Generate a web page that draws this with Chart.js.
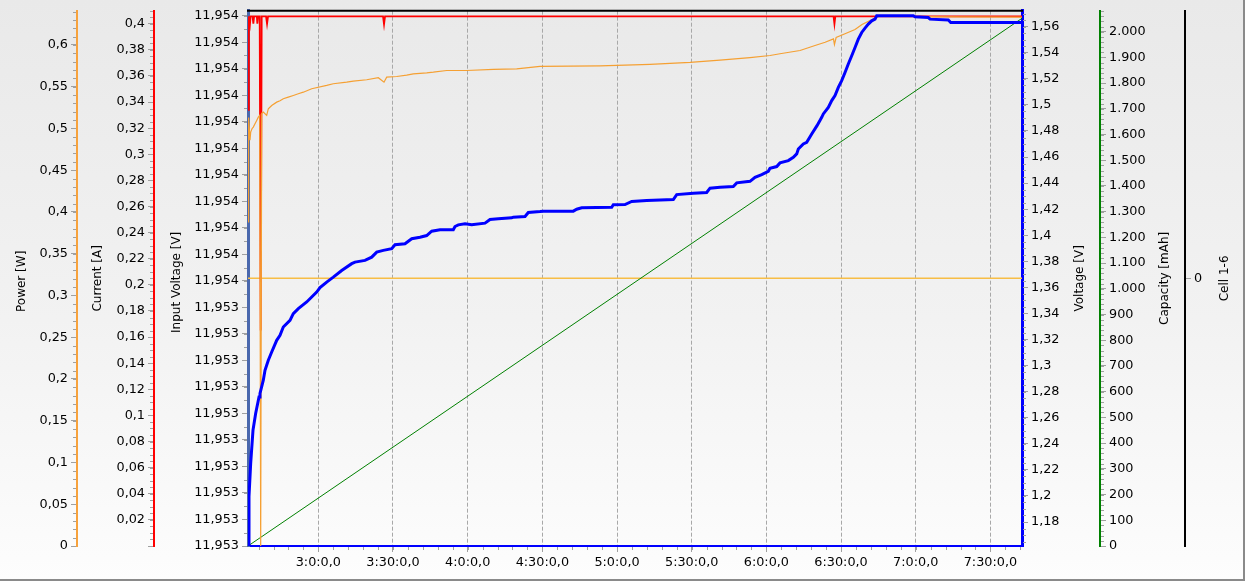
<!DOCTYPE html>
<html>
<head>
<meta charset="utf-8">
<script src="https://cdn.jsdelivr.net/npm/chart.js@4.4.0/dist/chart.umd.min.js"></script>
<style>
  html, body { margin: 0; padding: 0; background: #fff; }
  #wrap { position: relative; width: 1245px; height: 581px;
    background: linear-gradient(to bottom, #e9e9e9 0%, #f2f2f2 55%, #fdfdfd 100%); }
  #frame { position: absolute; left: 0; top: 0; width: 1243px; height: 579px;
    border-right: 2px solid #8a8a8a; border-bottom: 2px solid #8a8a8a; pointer-events: none; }
  canvas { position: absolute; left: 0; top: 0; }
</style>
</head>
<body>
<div id="wrap"><canvas id="logChart" width="1245" height="581"></canvas><div id="frame"></div></div>
<script>
// time in minutes after midnight
const timeTicks = [180, 210, 240, 270, 300, 330, 360, 390, 420, 450];
const timeLabels = ['3:0:0,0', '3:30:0,0', '4:0:0,0', '4:30:0,0', '5:0:0,0', '5:30:0,0', '6:0:0,0', '6:30:0,0', '7:0:0,0', '7:30:0,0'];

const voltTime = [151.75,152.15,152.83,153.76,154.84,156.17,156.57,157.90,158.58,159.91,161.27,163.28,164.61,165.93,168.62,169.95,171.96,175.33,177.34,179.35,
  180.68,183.37,186.02,189.39,193.41,194.74,198.75,201.45,203.46,206.11,209.48,210.81,214.82,217.52,220.85,223.54,225.55,228.89,234.23,234.91,
  236.24,238.93,241.62,246.97,248.97,252.31,257.69,258.34,263.04,264.36,269.06,270.39,282.44,283.81,285.82,297.87,298.51,303.21,305.90,311.93,
  322.62,323.98,330.65,336.03,337.36,341.38,346.72,348.09,353.43,355.44,358.13,360.78,361.46,364.16,365.48,368.82,370.83,372.19,372.84,374.85,
  376.21,378.34,380.35,382.24,382.88,384.89,386.26,387.58,388.91,390.27,391.60,392.92,394.29,395.62,396.94,398.31,399.63,400.96,402.33,403.65,
  404.33,419.04,419.72,425.06,425.74,433.10,434.06,462.70];
const voltValues = [1.162,1.1994,1.2252,1.2505,1.2635,1.2760,1.2786,1.2888,1.2964,1.3041,1.3104,1.3194,1.3232,1.3296,1.3347,1.3399,1.3437,1.3488,1.3526,1.3564,
  1.3598,1.3641,1.3679,1.3730,1.3782,1.3794,1.3807,1.3832,1.3871,1.3884,1.3897,1.3927,1.3935,1.3973,1.3985,1.3998,1.4031,1.4042,1.4042,1.4067,
  1.4080,1.4088,1.4080,1.4093,1.4121,1.4126,1.4134,1.4139,1.4144,1.4175,1.4182,1.4185,1.4185,1.4200,1.4211,1.4215,1.4234,1.4236,1.4259,1.4267,
  1.4274,1.4312,1.4322,1.4328,1.4361,1.4368,1.4374,1.4402,1.4414,1.4445,1.4466,1.4491,1.4514,1.4527,1.4555,1.4573,1.4598,1.4624,1.4662,1.4701,
  1.4713,1.4780,1.4841,1.4905,1.4931,1.4981,1.5033,1.5071,1.5134,1.5186,1.5249,1.5314,1.5377,1.5441,1.5505,1.5556,1.5589,1.5620,1.5645,1.5658,
  1.5684,1.5684,1.5676,1.5670,1.5658,1.5651,1.5632,1.5632];

const powerTime = [151.75,152.0,152.55,152.83,153.36,153.88,154.56,155.25,155.89,156.45,156.85,157.25,157.90,159.26,159.91,161.27,163.28,164.61,165.93,167.94,
  169.95,171.96,173.97,177.34,183.37,186.02,191.40,194.05,199.44,204.10,206.39,207.47,211.49,215.51,218.16,223.54,226.20,231.58,239.6,250.3,
  259.7,269.06,293.17,313.26,329.33,341.38,353.43,361.47,365.48,373.52,379.55,383.62,386.95,387.35,388.03,391.60,395.62,398.43,401.64,404.05,
  405.66,425.74,437.79,462.7];
const powerValues = [0.388,0.513,0.486,0.4956,0.4997,0.5016,0.5056,0.5096,0.5135,0.5156,0,0.518,0.5195,0.5156,0.5236,0.5275,0.5315,0.5331,0.5355,0.5375,
  0.5395,0.5415,0.5434,0.5475,0.5515,0.5535,0.5554,0.5566,0.5583,0.5607,0.5554,0.5614,0.5622,0.5638,0.5654,0.5666,0.5674,0.5694,0.5694,0.5706,
  0.5714,0.5742,0.5748,0.5766,0.5790,0.5817,0.5849,0.5873,0.5894,0.5933,0.5993,0.6032,0.6073,0.6005,0.6089,0.6133,0.6184,0.6244,0.6292,0.6328,
  0.6343,0.6340,0.6336,0.6334];

const currentTime = [151.75,152.1,152.55,152.8,153.6,153.9,154.2,155.3,155.5,155.8,156.45,156.85,157.25,159.0,159.4,159.8,206.0,206.4,206.8,387.0,387.35,387.7,462.7];
const currentValues = [0.334,0.4057,0.4,0.4057,0.4057,0.4,0.4057,0.4057,0.4,0.4057,0.4057,0.165,0.4057,0.4057,0.4,0.4057,0.4057,0.3996,0.4057,0.4057,0.3999,0.4057,0.4057];

const capacityTime = [151.75, 462.7];
const capacityValues = [0, 2052];

const cellTime = [151.75, 462.7];
const cellValues = [0, 0];

const inputVoltageBase = 11.95302;
const inputVoltageStep = 0.00005;

const pts = (xs, ys) => xs.map((x, i) => ({ x: x, y: ys[i] }));
const commaNum = (v, d) => String(Number(v.toFixed(d))).replace('.', ',');
const thousands = v => { const n = Math.round(v); return n >= 1000 ? Math.floor(n / 1000) + '.' + String(n % 1000).padStart(3, '0') : String(n); };

const tickFont = { family: 'DejaVu Sans', size: 12.8 };
const tickGray = '#a0a0a0';

function yAxis(pos, weight, color, bw, width, min, max, ticks, extra) {
  return Object.assign({
    type: 'linear', position: pos, weight: weight, min: min, max: max,
    ticks: Object.assign({ autoSkip: false, includeBounds: false, font: tickFont, color: '#000', padding: 3 }, ticks),
    grid: { drawOnChartArea: false, tickLength: 6, tickColor: tickGray, color: tickGray },
    border: { color: color, width: bw },
    afterFit: s => { s.width = width; }
  }, extra || {});
}

const minorSteps = {
  power: [0, 0.01], current: [0, 0.005], inputV: [inputVoltageBase, inputVoltageStep / 2],
  voltage: [0, 0.005], capacity: [0, 20], x: [0, 6]
};
const axisTitles = [
  { id: 'power', text: 'Power [W]', dx: 22, dy: 3 },
  { id: 'current', text: 'Current [A]', dx: 21, dy: 0 },
  { id: 'inputV', text: 'Input Voltage [V]', dx: 23, dy: 4 },
  { id: 'voltage', text: 'Voltage [V]', dx: 58, dy: 0 },
  { id: 'capacity', text: 'Capacity [mAh]', dx: 65, dy: 0 },
  { id: 'cell', text: 'Cell 1-6', dx: 40, dy: 0 }
];

const extrasPlugin = {
  id: 'extras',
  afterDraw(chart) {
    const ctx = chart.ctx, area = chart.chartArea;
    ctx.save();
    // minor ticks
    ctx.strokeStyle = tickGray;
    ctx.lineWidth = 1;
    Object.entries(minorSteps).forEach(([id, [base, step]]) => {
      const s = chart.scales[id];
      const k0 = Math.ceil((s.min - base) / step - 1e-6);
      const k1 = Math.floor((s.max - base) / step + 1e-6);
      ctx.beginPath();
      for (let k = k0; k <= k1; k++) {
        const p = Math.round(s.getPixelForValue(base + k * step)) + 0.5;
        if (s.isHorizontal()) { ctx.moveTo(p, s.top + 1); ctx.lineTo(p, s.top + 4); }
        else if (s.position === 'left') { ctx.moveTo(s.right - 4, p); ctx.lineTo(s.right - 1, p); }
        else { ctx.moveTo(s.left + 1, p); ctx.lineTo(s.left + 4, p); }
      }
      ctx.stroke();
    });
    // top frame line
    ctx.strokeStyle = '#000';
    ctx.lineWidth = 2;
    ctx.beginPath();
    ctx.moveTo(area.left - 1, area.top);
    ctx.lineTo(area.right + 1, area.top);
    ctx.stroke();
    // axis titles, all reading bottom to top
    ctx.fillStyle = '#000';
    ctx.font = '12px "DejaVu Sans"';
    ctx.textAlign = 'center';
    ctx.textBaseline = 'middle';
    const mid = (area.top + area.bottom) / 2;
    axisTitles.forEach(t => {
      const s = chart.scales[t.id];
      ctx.save();
      ctx.translate(s.left + t.dx, mid + t.dy);
      ctx.rotate(-Math.PI / 2);
      ctx.fillText(t.text, 0, 0);
      ctx.restore();
    });
    ctx.restore();
  }
};

const ctx = document.getElementById('logChart').getContext('2d');
const logChart = new Chart(ctx, {
  type: 'line',
  data: {
    datasets: [
      { label: 'Voltage', data: pts(voltTime, voltValues), yAxisID: 'voltage', borderColor: '#0000ff', borderWidth: 3, order: 0 },
      { label: 'Power', data: pts(powerTime, powerValues), yAxisID: 'power', borderColor: '#f5a033', borderWidth: 1.2, order: 1 },
      { label: 'Current', data: pts(currentTime, currentValues), yAxisID: 'current', borderColor: '#ff0000', borderWidth: 1.8, order: 2 },
      { label: 'Capacity', data: pts(capacityTime, capacityValues), yAxisID: 'capacity', borderColor: '#008000', borderWidth: 1, order: 3 },
      { label: 'Cell 1-6', data: pts(cellTime, cellValues), yAxisID: 'cell', borderColor: '#f7bd45', borderWidth: 1.5, order: 4 }
    ]
  },
  options: {
    responsive: false,
    animation: false,
    parsing: true,
    elements: { point: { radius: 0 }, line: { tension: 0, fill: false } },
    layout: { padding: { left: 0, right: 0, top: 10, bottom: 2 } },
    plugins: { legend: { display: false }, tooltip: { enabled: false } },
    scales: {
      x: {
        type: 'linear', position: 'bottom', min: 151.75, max: 462.7,
        afterBuildTicks: s => { s.ticks = timeTicks.map(v => ({ value: v })); },
        ticks: { autoSkip: false, maxRotation: 0, font: tickFont, color: '#000', padding: 3, callback: (v, i) => timeLabels[i] },
        grid: { color: '#a8a8a8', lineWidth: 1, tickLength: 6, tickColor: tickGray },
        border: { color: '#0000ff', width: 2, dash: [4, 2] },
        afterFit: s => { s.height = 33; }
      },
      power: yAxis('left', 3, '#f7a23c', 2, 77, 0, 0.641, { stepSize: 0.05, callback: v => commaNum(v, 2) }),
      current: yAxis('left', 2, '#ff0000', 2, 77, 0, 0.41, { stepSize: 0.02, callback: v => v === 0 ? '' : commaNum(v, 2) }),
      inputV: yAxis('left', 1, '#4a68ad', 3, 94, inputVoltageBase, inputVoltageBase + 0.001 * 536 / 531,
        { callback: v => v.toFixed(3).replace('.', ',') },
        { afterBuildTicks: s => { const t = []; for (let i = 0; i <= 20; i++) t.push({ value: inputVoltageBase + i * inputVoltageStep }); s.ticks = t; } }),
      voltage: yAxis('right', 1, '#0000ff', 3, 78, 1.1616, 1.5723, { stepSize: 0.02, callback: v => commaNum(v, 2) }),
      capacity: yAxis('right', 2, '#008000', 2, 85, 0, 2081.6, { stepSize: 100, callback: v => thousands(v) }),
      cell: yAxis('right', 3, '#000000', 2, 60, -1, 1, { callback: () => '0' },
        { afterBuildTicks: s => { s.ticks = [{ value: 0 }]; } })
    }
  },
  plugins: [extrasPlugin]
});
</script>
</body>
</html>
